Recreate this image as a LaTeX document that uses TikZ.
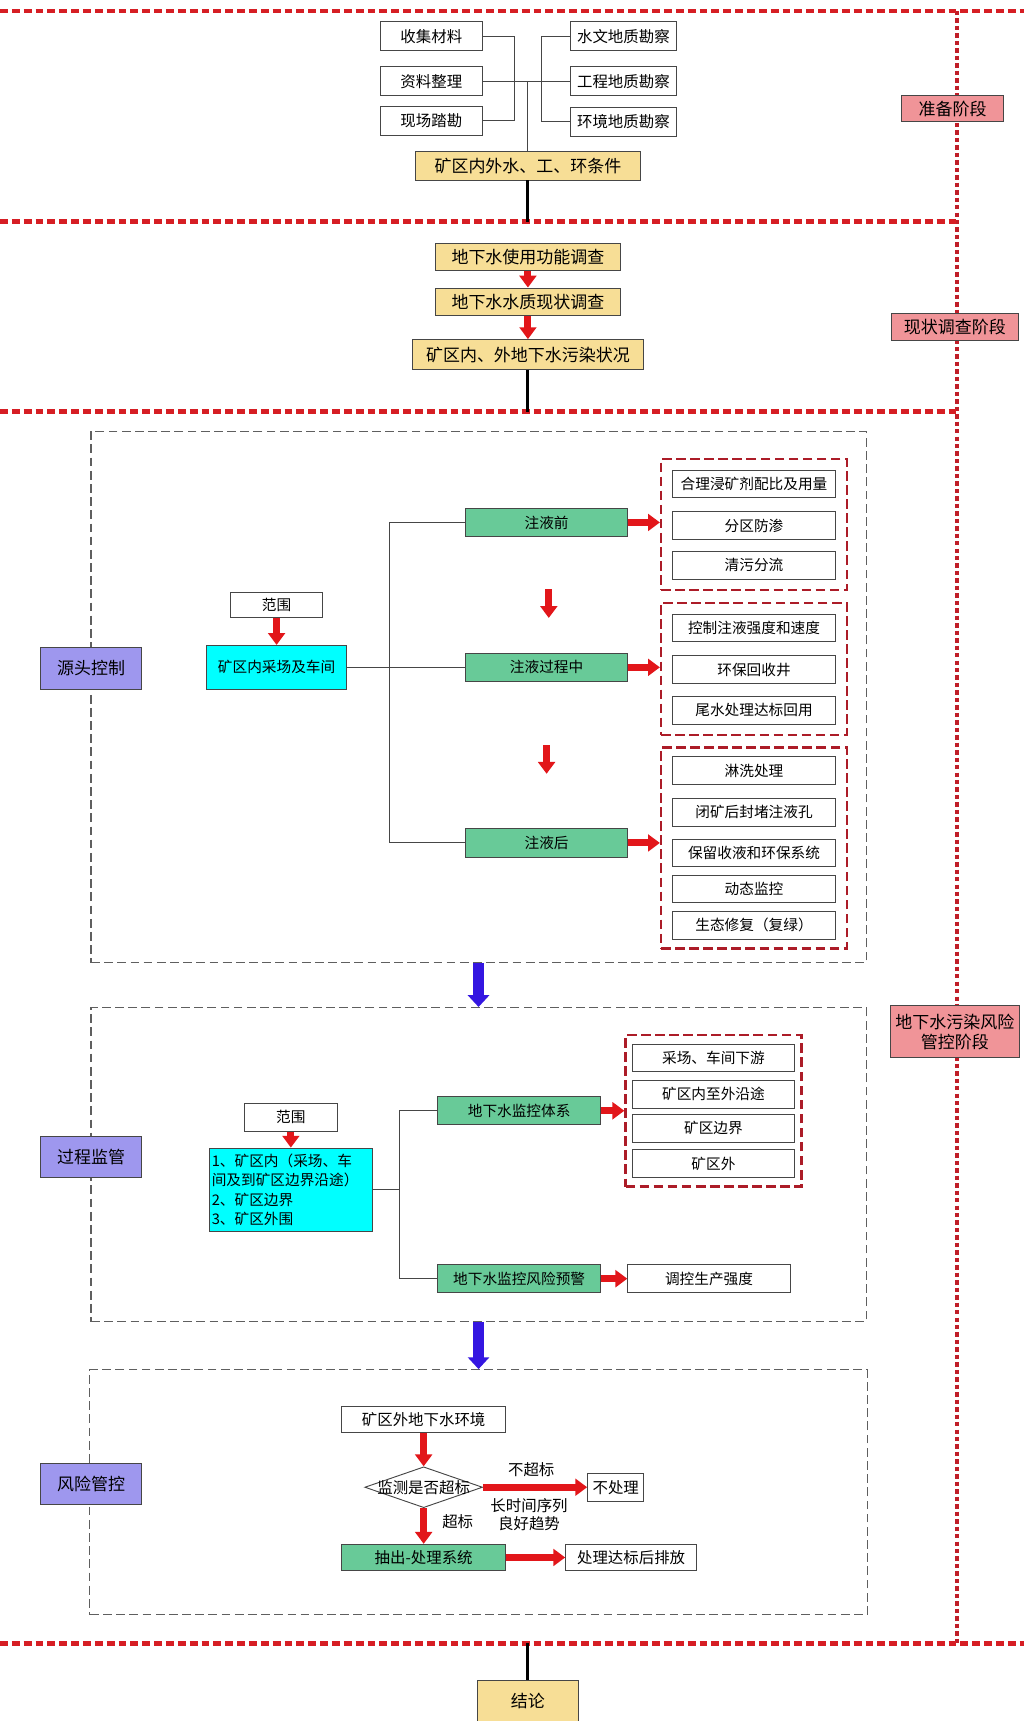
\documentclass[tikz,border=0pt]{standalone}
\usepackage{fontspec}
\setmainfont{Noto Sans CJK SC}
\usetikzlibrary{arrows.meta,fit,positioning,shapes.geometric}

\definecolor{linered}{RGB}{214,30,36}
\definecolor{dotred}{RGB}{192,30,40}
\definecolor{grpred}{RGB}{172,28,40}
\definecolor{arrred}{RGB}{226,22,26}
\definecolor{boxgray}{RGB}{70,70,70}
\definecolor{dashgray}{RGB}{95,95,95}
\definecolor{sand}{RGB}{247,222,150}
\definecolor{rose}{RGB}{240,148,152}
\definecolor{lilac}{RGB}{158,151,238}
\definecolor{aqua}{RGB}{0,255,255}
\definecolor{mint}{RGB}{104,202,152}
\definecolor{blueish}{RGB}{52,22,225}

\begin{document}
\begin{tikzpicture}[x=0.025cm, y=-0.025cm,
  txt/.style={font=\fontsize{9.5}{12.4}\selectfont},
  midtxt/.style={font=\fontsize{10}{12}\selectfont},
  bigtxt/.style={font=\fontsize{11}{13}\selectfont},
  box/.style={txt, draw=boxgray, line width=0.6pt, fill=white, inner sep=0pt, minimum height=0.63cm},
  sandbox/.style={box, bigtxt, fill=sand},
  mintbox/.style={box, fill=mint},
  stagebox/.style={box, bigtxt, fill=rose},
  partbox/.style={box, bigtxt, fill=lilac, minimum width=2.3cm, minimum height=0.95cm},
  item/.style={box, minimum width=3.73cm},
  grpbox/.style={draw=grpred, line width=1.6pt, dash pattern=on 0.22cm off 0.1cm, inner sep=0.24cm},
  zonebox/.style={draw=dashgray, line width=0.7pt, dash pattern=on 0.2cm off 0.1cm, inner sep=0pt},
  phaseline/.style={draw=linered, line width=3.2pt, dash pattern=on 0.18cm off 0.09cm},
  link/.style={draw=boxgray, line width=0.6pt},
  blackline/.style={draw=black, line width=2pt},
  redarr/.style={draw=arrred, line width=4.5pt, -{Triangle[length=0.27cm, width=0.38cm]}},
  bluearr/.style={draw=blueish, line width=7pt, -{Triangle[length=0.27cm, width=0.48cm]}}]

\fill[white] (0,0) rectangle (933,1568);
\useasboundingbox (0,0) rectangle (933,1568);

% stage borders
\draw[draw=dotred, line width=2.4pt, dash pattern=on 0.1cm off 0.07cm] (872,10) -- (872,1497);
\draw[phaseline] (0,10) -- (933,10);
\draw[phaseline] (0,202) -- (872,202);
\draw[phaseline] (0,375) -- (872,375);
\draw[phaseline] (0,1497) -- (933,1497);
\coordinate (cut1) at (481,202);
\coordinate (cut2) at (481,375);
\coordinate (cut3) at (481,1497);

% stage labels
\node[stagebox, minimum width=2.33cm, minimum height=0.58cm] (stageA) at (868,99) {准备阶段};
\node[stagebox, minimum width=2.9cm] (stageB) at (870,298) {现状调查阶段};
\node[stagebox, minimum width=2.93cm, minimum height=1.18cm, align=center] (stageC) at (870,940) {地下水污染风险\\管控阶段};

% preparation
\foreach \nm/\yy/\lbl in {collect/33/收集材料, sorting/74/资料整理, survey/110/现场踏勘}
  \node[box, midtxt, minimum width=2.33cm, minimum height=0.65cm] (\nm) at (393,\yy) {\lbl};
\foreach \nm/\yy/\lbl in {hydro/33/水文地质勘察, engeo/74/工程地质勘察, envgeo/111/环境地质勘察}
  \node[box, midtxt, minimum width=2.43cm, minimum height=0.65cm] (\nm) at (568,\yy) {\lbl};
\node[sandbox, minimum width=5.13cm, minimum height=0.65cm] (cond) at (481,151) {矿区内外水、工、环条件};
\draw[link] (collect.east) -- +(29,0) |- (survey.east);
\draw[link] (sorting.east) -- (engeo.west);
\draw[link] (hydro.west) -- +(-26,0) |- (envgeo.west);
\draw[link] (cond.north) -- (cond.north |- sorting.east);
\draw[blackline] (cond) -- (cut1);

% present state survey
\node[sandbox, minimum width=4.23cm] (usage) at (481,234) {地下水使用功能调查};
\node[sandbox, minimum width=4.23cm] (quality) at (481,275) {地下水水质现状调查};
\node[sandbox, minimum width=5.25cm, minimum height=0.68cm] (status) at (481,323) {矿区内、外地下水污染状况};
\draw[redarr] (usage) -- (quality);
\draw[redarr] (quality) -- (status);
\draw[blackline] (status) -- (cut2);

% zones
\node[zonebox, minimum width=17.65cm, minimum height=12.1cm] (zone1) at (436,635) {};
\node[zonebox, minimum width=17.65cm, minimum height=7.15cm] (zone2) at (436,1061) {};
\node[zonebox, minimum width=17.7cm, minimum height=5.58cm] (zone3) at (436,1359.5) {};
\draw[bluearr] (zone1.south) -- (zone2.north);
\draw[bluearr] (zone2.south) -- (zone3.north);
\node[partbox] (source) at (83,609) {源头控制};
\node[partbox] (process) at (83,1054) {过程监管};
\node[partbox] (control) at (83,1352) {风险管控};

% source control
\node[box, minimum width=2.1cm, minimum height=0.58cm] (scope1) at (252,551) {范围};
\node[box, fill=aqua, minimum width=3.2cm, minimum height=1cm] (site) at (252,608) {矿区内采场及车间};
\draw[redarr] (scope1) -- (site);
\foreach \nm/\yy/\lbl in {before/476/注液前, during/608/注液过程中, after/768/注液后}
  \node[mintbox, minimum width=3.7cm, minimum height=0.65cm] (\nm) at (498,\yy) {\lbl};
\coordinate (fork1) at (355,608);
\draw[link] (site) -- (fork1) -- (during);
\draw[link] (before.west) -| (fork1) |- (after.west);
\foreach \nm/\yy/\lbl in {a1/441/合理浸矿剂配比及用量, a2/479/分区防渗, a3/515/清污分流,
    b1/572/控制注液强度和速度, b2/610/环保回收井, b3/647/尾水处理达标回用,
    c1/702/淋洗处理, c2/740/闭矿后封堵注液孔, c3/777/保留收液和环保系统,
    c4/810/动态监控, c5/843/生态修复（复绿）}
  \node[item] (\nm) at (687,\yy) {\lbl};
\node[grpbox, fit=(a1)(a3)] (ga) {};
\node[grpbox, fit=(b1)(b3)] (gb) {};
\node[grpbox, inner ysep=0.2cm, fit=(c1)(c5)] (gc) {};
\draw[redarr] (before) -- (before -| ga.west);
\draw[redarr] (during) -- (during -| gb.west);
\draw[redarr] (after) -- (after -| gc.west);
\coordinate (d1) at (500,537);
\coordinate (d2) at (498,679);
\draw[redarr] (d1) -- +(0,26);
\draw[redarr] (d2) -- +(0,26);

% process supervision
\node[box, minimum width=2.1cm] (scope2) at (265,1018) {范围};
\node[box, fill=aqua, minimum height=1.9cm, align=left, text width=3.6cm, inner xsep=0.05cm] (sites) at (265,1084)
  {1、矿区内（采场、车\\间及到矿区边界沿途）\\2、矿区边界\\3、矿区外围};
\draw[redarr] (scope2) -- (sites);
\foreach \nm/\yy/\lbl in {monitor/1012/地下水监控体系, warning/1165/地下水监控风险预警}
  \node[mintbox, minimum width=3.72cm] (\nm) at (473,\yy) {\lbl};
\coordinate (fork2) at (364,1084);
\draw[link] (sites) -- (fork2);
\draw[link] (monitor.west) -| (fork2) |- (warning.west);
\foreach \nm/\yy/\lbl in {m1/964/采场、车间下游, m2/997/矿区内至外沿途, m3/1028/矿区边界, m4/1060/矿区外}
  \node[item, minimum width=3.68cm] (\nm) at (650,\yy) {\lbl};
\node[grpbox, inner xsep=0.15cm, inner ysep=0.2cm, fit=(m1)(m4)] (gm) {};
\draw[redarr] (monitor) -- (monitor -| gm.west);
\node[box, minimum width=3.7cm] (adjust) at (646,1165) {调控生产强度};
\draw[redarr] (warning) -- (adjust);

% risk control
\node[box, midtxt, minimum width=3.73cm, minimum height=0.6cm] (outside) at (386,1293) {矿区外地下水环境};
\node[diamond, draw=boxgray, line width=0.6pt, fill=white, minimum width=2.68cm, minimum height=0.93cm, inner sep=0pt] (check) at (386,1355) {};
\node[midtxt] (checktxt) at (check) {监测是否超标};
\node[box, midtxt, minimum width=1.28cm] (noact) at (561,1355) {不处理};
\node[mintbox, midtxt, minimum width=3.73cm, minimum height=0.6cm] (pump) at (386,1419) {抽出-处理系统};
\node[box, midtxt, minimum width=2.98cm, minimum height=0.6cm] (release) at (575,1419) {处理达标后排放};
\draw[redarr] (outside) -- (check);
\draw[redarr] (check) -- (noact);
\draw[redarr] (check) -- (pump);
\draw[redarr] (pump) -- (release);
\node[midtxt] (notover) at (484,1339) {不超标};
\node[midtxt, align=center] (trend) at (482,1380) {长时间序列\\良好趋势};
\node[midtxt, anchor=west] (over) at (398,1386) {超标};

% conclusion
\node[sandbox, minimum width=2.3cm, minimum height=0.95cm] (result) at (481,1550) {结论};
\draw[blackline] (cut3) -- (result);

\end{tikzpicture}
\end{document}
